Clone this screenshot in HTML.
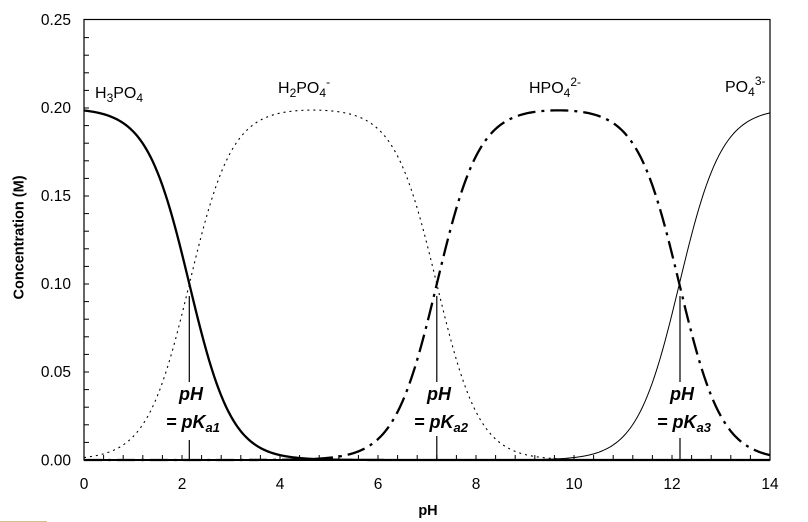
<!DOCTYPE html>
<html><head><meta charset="utf-8">
<style>
html,body{margin:0;padding:0;background:#fff;}
svg{display:block;}
text{font-family:"Liberation Sans",Arial,sans-serif;fill:#000;}
</style></head>
<body>
<svg id="s" width="808" height="522" viewBox="0 0 808 522" xmlns="http://www.w3.org/2000/svg">
<rect x="0" y="0" width="808" height="522" fill="#fff"/>
<g id="curves" fill="none" stroke="#000" stroke-linejoin="round"></g>
<!-- frame -->
<rect x="84" y="19.5" width="686" height="440.5" fill="none" stroke="#000" stroke-width="1.2"/>
<line x1="84" y1="460" x2="770" y2="460" stroke="#000" stroke-width="2"/>
<g id="ticks" stroke="#000" stroke-width="1"></g>
<g font-size="15.5" text-anchor="end">
<text x="71" y="25">0.25</text>
<text x="71" y="113">0.20</text>
<text x="71" y="201">0.15</text>
<text x="71" y="289">0.10</text>
<text x="71" y="377">0.05</text>
<text x="71" y="465.5">0.00</text>
</g>
<g font-size="15.5" text-anchor="middle">
<text x="84" y="489">0</text>
<text x="182" y="489">2</text>
<text x="280" y="489">4</text>
<text x="378" y="489">6</text>
<text x="476" y="489">8</text>
<text x="574" y="489">10</text>
<text x="672" y="489">12</text>
<text x="770" y="489">14</text>
</g>
<text x="428" y="515" font-size="14.5" font-weight="bold" text-anchor="middle">pH</text>
<text transform="translate(23.5,237.5) rotate(-90)" font-size="14.5" font-weight="bold" text-anchor="middle">Concentration (M)</text>
<!-- species labels -->
<g font-size="16">
<text x="95" y="98">H<tspan font-size="12" dy="4">3</tspan><tspan dy="-4">PO</tspan><tspan font-size="12" dy="4">4</tspan></text>
<text x="278" y="93">H<tspan font-size="12" dy="4">2</tspan><tspan dy="-4">PO</tspan><tspan font-size="12" dy="4">4</tspan><tspan font-size="12" dy="-11">-</tspan></text>
<text x="529" y="93">HPO<tspan font-size="12" dy="4">4</tspan><tspan font-size="12" dy="-11">2-</tspan></text>
<text x="725" y="92">PO<tspan font-size="12" dy="4">4</tspan><tspan font-size="12" dy="-11">3-</tspan></text>
</g>
<!-- pKa markers -->
<g stroke="#000" stroke-width="1.2">
<line x1="189.3" y1="296" x2="189.3" y2="382"/>
<line x1="189.3" y1="440" x2="189.3" y2="460"/>
<line x1="436.8" y1="296" x2="436.8" y2="382"/>
<line x1="436.8" y1="436" x2="436.8" y2="460"/>
<line x1="680" y1="296" x2="680" y2="382"/>
<line x1="680" y1="438" x2="680" y2="460"/>
</g>
<g font-size="18" font-weight="bold" font-style="italic" text-anchor="middle">
<text x="191" y="400">pH</text>
<text x="193" y="428">= pK<tspan font-size="13" dy="4">a1</tspan></text>
<text x="439" y="400">pH</text>
<text x="441" y="428">= pK<tspan font-size="13" dy="4">a2</tspan></text>
<text x="682" y="400">pH</text>
<text x="684" y="428">= pK<tspan font-size="13" dy="4">a3</tspan></text>
</g>
<line x1="0" y1="521.5" x2="47" y2="521.5" stroke="#cdbf92" stroke-width="1"/>
</svg>
<script>
(function(){
var NS="http://www.w3.org/2000/svg";
var ticks=document.getElementById('ticks');
function ln(x1,y1,x2,y2){var l=document.createElementNS(NS,'line');l.setAttribute('x1',x1);l.setAttribute('y1',y1);l.setAttribute('x2',x2);l.setAttribute('y2',y2);ticks.appendChild(l);}
for(var i=1;i<25;i++){var y=460-i*17.6;ln(84,y,89,y);}
for(var i=1;i<35;i++){var x=84+i*19.6;ln(x,460,x,455);}
var X=function(p){return 84+p*49;};
var Y=function(c){return 460-c*1760;};
var Ka1=Math.pow(10,-2.15),Ka2=Math.pow(10,-7.20),Ka3=Math.pow(10,-12.15),C=0.2;
var d=[[],[],[],[]];
for(var p=0;p<=14.0001;p+=0.05){
 var H=Math.pow(10,-p);
 var t0=H*H*H,t1=Ka1*H*H,t2=Ka1*Ka2*H,t3=Ka1*Ka2*Ka3;
 var D=t0+t1+t2+t3;
 var f=[t0/D,t1/D,t2/D,t3/D];
 for(var k=0;k<4;k++){d[k].push((d[k].length?'L':'M')+X(p).toFixed(2)+' '+Y(C*f[k]).toFixed(2));}
}
var g=document.getElementById('curves');
var styles=[
 {w:2.3,da:null},
 {w:1.1,da:'2 4'},
 {w:2.3,da:'18 6 3 6'},
 {w:1.0,da:null}
];
for(var k=0;k<4;k++){
 var pth=document.createElementNS(NS,'path');
 pth.setAttribute('d',d[k].join(''));
 pth.setAttribute('stroke-width',styles[k].w);
 if(styles[k].da)pth.setAttribute('stroke-dasharray',styles[k].da);
 g.appendChild(pth);
}
})();
</script>
</body></html>
